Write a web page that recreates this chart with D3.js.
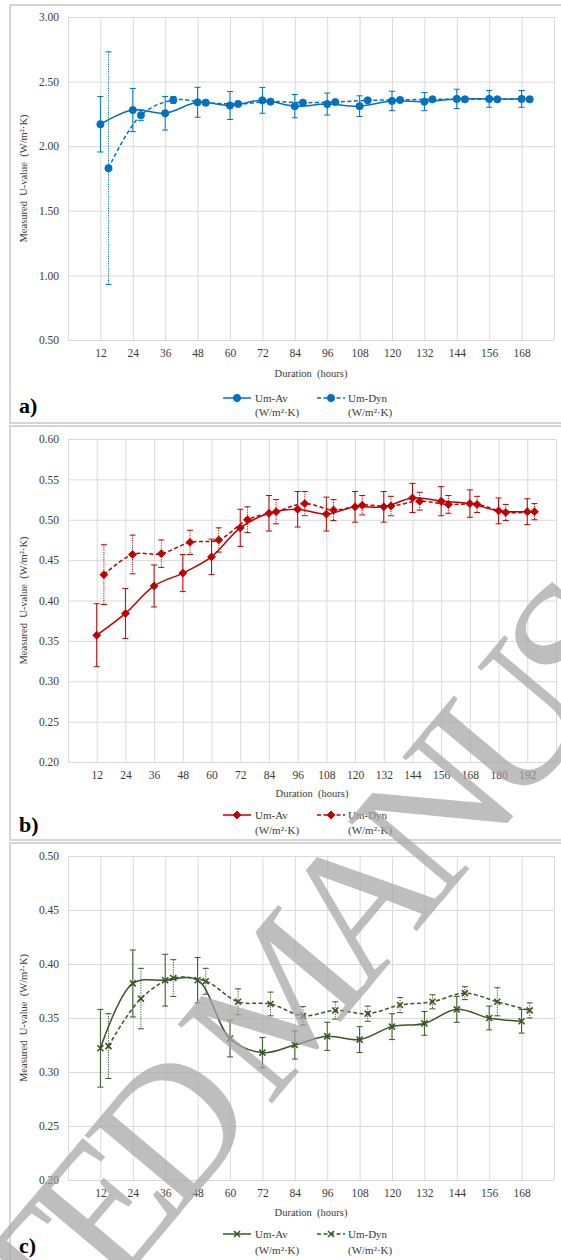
<!DOCTYPE html>
<html>
<head>
<meta charset="utf-8">
<script src="https://cdn.jsdelivr.net/npm/d3@7"></script>
<style>
  html, body { margin: 0; padding: 0; background: #fff; }
  svg { display: block; font-family: "Liberation Serif", "Times New Roman", serif; }
</style>
</head>
<body>
<svg id="chart" width="561" height="1260"></svg>
<script>
/* ---- data: panel a ---- */
const hoursA   = [12, 24, 36, 48, 60, 72, 84, 96, 108, 120, 132, 144, 156, 168];
const avA      = [2.17, 2.28, 2.255, 2.34, 2.315, 2.355, 2.31, 2.326, 2.31, 2.35, 2.345, 2.366, 2.366, 2.366];
const avErrA   = [0.215, 0.167, 0.13, 0.116, 0.108, 0.10, 0.09, 0.085, 0.08, 0.075, 0.07, 0.075, 0.065, 0.065];
const dynA     = [1.83, 2.24, 2.358, 2.337, 2.327, 2.345, 2.337, 2.342, 2.355, 2.358, 2.363, 2.363, 2.363, 2.363];
const dynErrA  = [0.90, 0.04, 0.025, 0.015, 0.012, 0.012, 0.01, 0.01, 0.01, 0.01, 0.01, 0.01, 0.01, 0.01];
const yTicksA  = [0.5, 1.0, 1.5, 2.0, 2.5, 3.0];

/* ---- data: panel b ---- */
const hoursB   = [12, 24, 36, 48, 60, 72, 84, 96, 108, 120, 132, 144, 156, 168, 180, 192];
const avB      = [0.357, 0.384, 0.418, 0.434, 0.454, 0.490, 0.508, 0.513, 0.507, 0.516, 0.516, 0.527, 0.523, 0.520, 0.511, 0.510];
const avErrB   = [0.039, 0.031, 0.026, 0.023, 0.022, 0.023, 0.022, 0.022, 0.021, 0.019, 0.019, 0.018, 0.018, 0.017, 0.016, 0.016];
const dynB     = [0.432, 0.457, 0.458, 0.472, 0.475, 0.500, 0.510, 0.520, 0.512, 0.518, 0.517, 0.523, 0.519, 0.519, 0.509, 0.510];
const dynErrB  = [0.037, 0.024, 0.017, 0.015, 0.015, 0.016, 0.015, 0.015, 0.013, 0.012, 0.012, 0.011, 0.011, 0.010, 0.010, 0.010];
const yTicksB  = [0.20, 0.25, 0.30, 0.35, 0.40, 0.45, 0.50, 0.55, 0.60];

/* ---- data: panel c ---- */
const hoursC   = [12, 24, 36, 48, 60, 72, 84, 96, 108, 120, 132, 144, 156, 168];
const avC      = [0.322, 0.382, 0.385, 0.385, 0.331, 0.318, 0.325, 0.333, 0.330, 0.342, 0.345, 0.358, 0.350, 0.347];
const avErrC   = [0.036, 0.031, 0.024, 0.021, 0.017, 0.014, 0.013, 0.013, 0.012, 0.012, 0.011, 0.012, 0.011, 0.011];
const dynC     = [0.324, 0.368, 0.387, 0.384, 0.365, 0.363, 0.352, 0.357, 0.354, 0.362, 0.365, 0.373, 0.365, 0.357];
const dynErrC  = [0.030, 0.028, 0.017, 0.012, 0.012, 0.011, 0.0085, 0.008, 0.007, 0.007, 0.0065, 0.006, 0.013, 0.007];
const yTicksC  = [0.20, 0.25, 0.30, 0.35, 0.40, 0.45, 0.50];

const seriesNames = ['Um-Av', 'Um-Dyn'];
const unitLabel   = '(W/m\u00B2\u00B7K)';
const yTitle      = 'Measured  U-value  (W/m\u00B2\u00B7K)';
const xTitle      = 'Duration  (hours)';

const svg = d3.select('#chart');
svg.append('rect').attr('width', 561).attr('height', 1260).attr('fill', '#fff');

const GRID = '#d9d9d9';
const TXT  = '#3a3a3a';
const DYN_SHIFT = 3;   // Um-Dyn points sit a little right of the tick

function markerPath(kind, s) {
  if (kind === 'circle') return d3.symbol(d3.symbolCircle, s * s * 3.2)();
  if (kind === 'diamond') return `M0,${-s}L${s},0L0,${s}L${-s},0Z`;
  return `M${-s},${-s}L${s},${s}M${-s},${s}L${s},${-s}`;
}

function drawMarkers(g, pts, cfg) {
  g.selectAll(null).data(pts).enter().append('path')
    .attr('transform', d => `translate(${d[0]},${d[1]})`)
    .attr('d', markerPath(cfg.marker, cfg.mSize))
    .attr('fill', cfg.marker === 'x' ? 'none' : cfg.color)
    .attr('stroke', cfg.color)
    .attr('stroke-width', cfg.marker === 'x' ? 1.6 : 0.8);
}

function drawPanel(cfg) {
  const g = svg.append('g');
  const { left, right, top, bottom } = cfg;

  // panel frame
  g.append('rect')
    .attr('x', 10).attr('y', cfg.frameTop)
    .attr('width', 600).attr('height', cfg.frameBottom - cfg.frameTop)
    .attr('fill', 'none').attr('stroke', '#c8c8c8').attr('stroke-width', 1.5);

  const x = d3.scaleLinear().domain([0, cfg.xMax]).range([left, right]);
  const y = d3.scaleLinear().domain(d3.extent(cfg.yTicks)).range([bottom, top]);

  // y axis + horizontal grid
  g.append('g')
    .attr('transform', `translate(${left},0)`)
    .call(d3.axisLeft(y).tickValues(cfg.yTicks).tickSize(-(right - left)).tickPadding(9)
      .tickFormat(d3.format('.2f')))
    .call(a => {
      a.select('.domain').remove();
      a.selectAll('line').attr('stroke', GRID).attr('stroke-width', 1);
      a.selectAll('text').attr('fill', TXT).attr('font-size', 11.5)
        .attr('font-family', '"Liberation Serif", serif');
    });

  // x axis + vertical grid
  const gridVals = [0].concat(cfg.hours, [cfg.xMax]);
  g.append('g')
    .attr('transform', `translate(0,${bottom})`)
    .call(d3.axisBottom(x).tickValues(gridVals).tickSize(-(bottom - top)).tickPadding(9)
      .tickFormat(v => cfg.hours.includes(v) ? v : ''))
    .call(a => {
      a.select('.domain').remove();
      a.selectAll('line').attr('stroke', GRID).attr('stroke-width', 1);
      a.selectAll('text').attr('fill', TXT).attr('font-size', 11.5)
        .attr('font-family', '"Liberation Serif", serif');
    });

  // axis titles
  g.append('text')
    .attr('x', (left + right) / 2).attr('y', cfg.xTitleY)
    .attr('text-anchor', 'middle').attr('dominant-baseline', 'central')
    .attr('fill', TXT).attr('font-size', 10.5).style('white-space', 'pre')
    .text(xTitle);
  g.append('text')
    .attr('transform', `translate(23,${(top + bottom) / 2}) rotate(-90)`)
    .attr('text-anchor', 'middle').attr('dominant-baseline', 'central')
    .attr('fill', TXT).attr('font-size', 10.5).style('white-space', 'pre')
    .text(yTitle);

  const curve = d3.curveCatmullRom.alpha(0.5);
  const series = [
    { shift: 0, vals: cfg.av, errs: cfg.avErr, dash: null, errDash: null },
    { shift: DYN_SHIFT, vals: cfg.dyn, errs: cfg.dynErr, dash: '4,2.5', errDash: '1.2,1.2' }
  ];

  series.forEach(s => {
    const pts = cfg.hours.map((h, i) => [x(h + s.shift), y(s.vals[i])]);
    // error bars
    const eg = g.append('g').attr('stroke', cfg.color).attr('stroke-width', 1)
      .attr('fill', 'none');
    cfg.hours.forEach((h, i) => {
      const cx = x(h + s.shift);
      const y1 = y(s.vals[i] + s.errs[i]);
      const y2 = y(s.vals[i] - s.errs[i]);
      eg.append('line').attr('x1', cx).attr('x2', cx).attr('y1', y1).attr('y2', y2)
        .attr('stroke-dasharray', s.errDash);
      eg.append('line').attr('x1', cx - 3).attr('x2', cx + 3).attr('y1', y1).attr('y2', y1);
      eg.append('line').attr('x1', cx - 3).attr('x2', cx + 3).attr('y1', y2).attr('y2', y2);
    });
    // line
    g.append('path')
      .attr('d', d3.line().curve(curve)(pts))
      .attr('fill', 'none').attr('stroke', cfg.color).attr('stroke-width', 1.5)
      .attr('stroke-dasharray', s.dash);
    drawMarkers(g, pts, cfg);
  });

  // legend
  const lg = g.append('g');
  const legX = [[223, 251, 237, 255], [317, 345, 331, 348]];
  seriesNames.forEach((name, i) => {
    const [x1, x2, mx, tx] = legX[i];
    lg.append('line').attr('x1', x1).attr('x2', x2)
      .attr('y1', cfg.legY[0]).attr('y2', cfg.legY[0])
      .attr('stroke', cfg.color).attr('stroke-width', 1.5)
      .attr('stroke-dasharray', i === 1 ? '4,2.5' : null);
    drawMarkers(lg, [[mx, cfg.legY[0]]], cfg);
    lg.append('text').attr('x', tx).attr('y', cfg.legY[0])
      .attr('dominant-baseline', 'central').attr('fill', TXT).attr('font-size', 11)
      .text(name);
    lg.append('text').attr('x', tx).attr('y', cfg.legY[1])
      .attr('dominant-baseline', 'central').attr('fill', TXT).attr('font-size', 11)
      .text(unitLabel);
  });

  // panel letter
  g.append('text')
    .attr('x', 19).attr('y', cfg.letterY)
    .attr('font-size', 22).attr('font-weight', 'bold').attr('fill', '#000')
    .text(cfg.letter);
}

drawPanel({
  letter: 'a)', frameTop: 5, frameBottom: 423,
  left: 68, right: 554, top: 17, bottom: 340, xMax: 180,
  hours: hoursA, av: avA, avErr: avErrA, dyn: dynA, dynErr: dynErrA, yTicks: yTicksA,
  color: '#0070C0', marker: 'circle', mSize: 3.6,
  xTitleY: 373, legY: [398, 412], letterY: 413
});

drawPanel({
  letter: 'b)', frameTop: 426, frameBottom: 840,
  left: 68, right: 556, top: 439, bottom: 762, xMax: 204,
  hours: hoursB, av: avB, avErr: avErrB, dyn: dynB, dynErr: dynErrB, yTicks: yTicksB,
  color: '#C00000', marker: 'diamond', mSize: 4,
  xTitleY: 793, legY: [815, 830], letterY: 832
});

drawPanel({
  letter: 'c)', frameTop: 843, frameBottom: 1275,
  left: 68, right: 554, top: 856, bottom: 1180, xMax: 180,
  hours: hoursC, av: avC, avErr: avErrC, dyn: dynC, dynErr: dynErrC, yTicks: yTicksC,
  color: '#385723', marker: 'x', mSize: 3,
  xTitleY: 1212, legY: [1234, 1250], letterY: 1253
});

// "accepted manuscript" watermark, clipped by the page like in the scan
svg.append('text')
  .attr('transform', 'translate(276,1000) rotate(-50)')
  .attr('text-anchor', 'middle').attr('dominant-baseline', 'central')
  .attr('font-size', 188).attr('letter-spacing', -19)
  .attr('fill', '#a6a6a6').attr('opacity', 0.72)
  .attr('font-family', '"Liberation Serif", serif')
  .text('ACCEPTED MANUSCRIPT');
</script>
</body>
</html>
